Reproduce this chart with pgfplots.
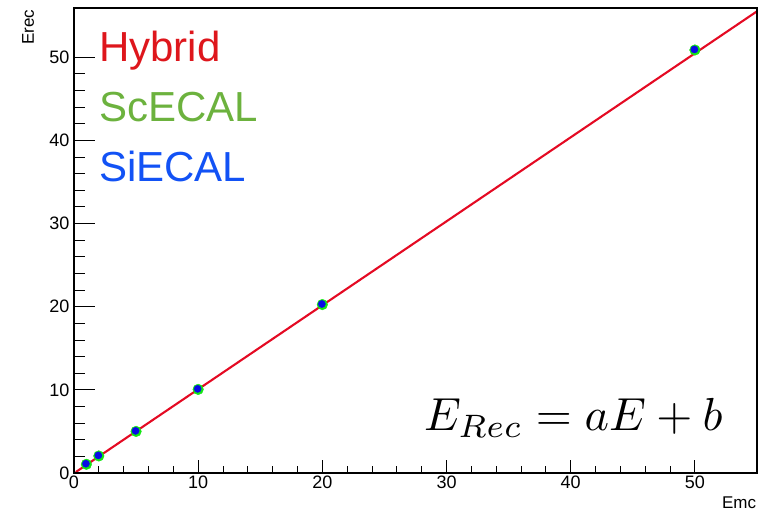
\documentclass[border=0pt]{standalone}
\usepackage{pgfplots}
\pgfplotsset{compat=1.18}
\usepackage{fontspec}
\setmainfont{Liberation Sans}
\definecolor{hyb}{RGB}{222,22,28}
\definecolor{scl}{RGB}{108,178,62}
\definecolor{sil}{RGB}{18,82,245}
\definecolor{mkgreen}{RGB}{20,230,20}
\definecolor{mkblue}{RGB}{10,10,230}
\definecolor{linered}{RGB}{228,10,35}
\begin{document}
\begin{tikzpicture}
\pgfplotsset{
  base/.style={
    scale only axis, width=683bp, height=465bp,
    xmin=0, xmax=55, ymin=0, ymax=55.9,
    axis line style={line width=1.1bp, black},
    tick align=inside,
    /pgf/number format/assume math mode=true,
    tick label style={font=\fontsize{18bp}{20bp}\selectfont},
    clip=false,
  }
}
% axis 1: data, x ticks
\begin{axis}[base,
  xtick={0,10,20,30,40,50},
  minor x tick num=4,
  xtick pos=bottom,
  ytick=\empty,
  major tick length=13bp, minor tick length=7bp,
  every tick/.style={black, line width=0.8bp},
  xticklabel style={yshift=1bp},
]
\addplot[only marks, mark=*, mark size=5.3bp, mark options={draw=mkgreen, fill=mkgreen}]
  coordinates {(1,1.05) (2,2.05) (5,5.0) (10,10.05) (20,20.25) (50,50.85)};
\addplot[only marks, mark=*, mark size=3.6bp, mark options={draw=mkblue, fill=mkblue}]
  coordinates {(0.96,1.12) (1.96,2.12) (4.96,5.07) (9.96,10.12) (19.96,20.32) (49.96,50.92)};
\addplot[linered, line width=2.1bp] coordinates {(0.15,0.12) (55,55.5)};

\node[anchor=base west, inner sep=0, text=hyb, font=\fontsize{42bp}{44bp}\selectfont]
  at (rel axis cs:0.0367,0.884) {Hybrid};
\node[anchor=base west, inner sep=0, text=scl, font=\fontsize{42bp}{44bp}\selectfont]
  at (rel axis cs:0.0367,0.755) {ScECAL};
\node[anchor=base west, inner sep=0, text=sil, font=\fontsize{42bp}{44bp}\selectfont]
  at (rel axis cs:0.0367,0.626) {SiECAL};
\node[anchor=base east, inner sep=0, scale=4.65, font=\fontsize{10pt}{12pt}\selectfont]
  at (rel axis cs:0.951,0.092) {$E_{Rec} = aE + b$};
\node[anchor=base east, inner sep=0, rotate=90, font=\fontsize{17bp}{19bp}\selectfont]
  at (rel axis cs:-0.0587,0.997) {Erec};
\node[anchor=base east, inner sep=0, font=\fontsize{17bp}{19bp}\selectfont]
  at (rel axis cs:0.999,-0.077) {Emc};
\coordinate (bbl) at (rel axis cs:-0.1083,-0.086);
\coordinate (bbr) at (rel axis cs:1.0132,1.0172);
\end{axis}
% axis 2: y ticks
\begin{axis}[base,
  xtick=\empty,
  ytick={0,10,20,30,40,50},
  minor y tick num=4,
  ytick pos=left,
  major tick length=21bp, minor tick length=11bp,
  every tick/.style={black, line width=0.8bp},
  yticklabel style={xshift=-1bp},
]
\end{axis}
\pgfresetboundingbox
\path[use as bounding box] (bbl) rectangle (bbr);
\end{tikzpicture}
\end{document}
